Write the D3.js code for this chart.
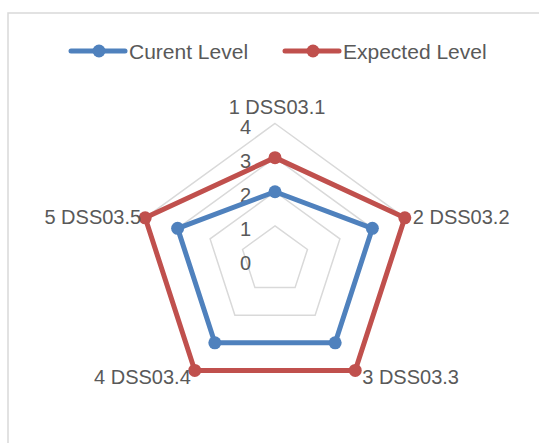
<!DOCTYPE html>
<html><head><meta charset="utf-8">
<script src="https://cdn.jsdelivr.net/npm/d3@7"></script>
<style>body{margin:0;background:#fff;}svg{display:block;}</style>
</head><body>
<svg id="chart" width="539" height="443"></svg>
<script>
const categories = ["1 DSS03.1","2 DSS03.2","3 DSS03.3","4 DSS03.4","5 DSS03.5"];
const currentLevel = [2,3,3,3,3];
const expectedLevel = [3,4,4,4,4];
const seriesNames = ["Curent Level","Expected Level"];
const ticks = [0,1,2,3,4];

const colors = ["#4F81BD","#C0504D"];
const textColor = "#595959";
const gridColor = "#D9D9D9";
const font = "'Liberation Sans', Arial, sans-serif";

const svg = d3.select("#chart");
svg.append("rect").attr("x",8).attr("y",13).attr("width",700).attr("height",600)
  .attr("fill","#fff").attr("stroke",gridColor).attr("stroke-width",1.5);

const cx = 275, cy = 260;
const r = d3.scaleLinear().domain([0,4]).range([0,136.5]);
const ang = d3.scaleLinear().domain([0,categories.length]).range([-Math.PI/2, 1.5*Math.PI]);
const pt = (i,v)=>[cx + r(v)*Math.cos(ang(i)), cy + r(v)*Math.sin(ang(i))];

// grid pentagons
const g = svg.append("g");
ticks.filter(t=>t>0).forEach(t=>{
  g.append("path").attr("d", d3.line()(categories.map((c,i)=>pt(i,t))) + "Z")
    .attr("fill","none").attr("stroke",gridColor).attr("stroke-width",1.5);
});
// spokes
categories.forEach((c,i)=>{
  g.append("line").attr("x1",cx).attr("y1",cy)
    .attr("x2",pt(i,4)[0]).attr("y2",pt(i,4)[1])
    .attr("stroke",gridColor).attr("stroke-width",1.5).attr("visibility","hidden");
});

// tick labels
ticks.forEach(t=>{
  svg.append("text").attr("x",cx-24).attr("y",cy - r(t) + 3)
    .attr("text-anchor","end").attr("dominant-baseline","central")
    .attr("font-family",font).attr("font-size",20).attr("fill",textColor).text(t);
});

// series
[currentLevel, expectedLevel].forEach((vals,s)=>{
  const pts = vals.map((v,i)=>pt(i,v));
  svg.append("path").attr("d", d3.line()(pts)+"Z").attr("fill","none")
    .attr("stroke",colors[s]).attr("stroke-width",5).attr("stroke-linejoin","round");
  svg.selectAll(null).data(pts).enter().append("circle")
    .attr("cx",d=>d[0]).attr("cy",d=>d[1]).attr("r",6.5).attr("fill",colors[s]);
});

// category labels
categories.forEach((c,i)=>{
  const [x,y] = pt(i,4);
  const ca = Math.cos(ang(i)), sa = Math.sin(ang(i));
  const t = svg.append("text").attr("font-family",font).attr("font-size",20).attr("fill",textColor).text(c);
  if (Math.abs(ca) < 0.1) {
    t.attr("x",x+2).attr("y",y-10).attr("text-anchor","middle");
  } else if (sa < 0) {
    t.attr("x", x + (ca>0?8:-4)).attr("y", y - 1).attr("dominant-baseline","central")
     .attr("text-anchor", ca>0?"start":"end");
  } else {
    t.attr("x", x + (ca>0?7:-4)).attr("y", y + 7).attr("dominant-baseline","central")
     .attr("text-anchor", ca>0?"start":"end");
  }
});

// legend
const legendX = [71, 285];
seriesNames.forEach((n,s)=>{
  const lg = svg.append("g").attr("transform",`translate(${legendX[s]},51)`);
  lg.append("line").attr("x1",0).attr("x2",54).attr("y1",0).attr("y2",0)
    .attr("stroke",colors[s]).attr("stroke-width",5).attr("stroke-linecap","round");
  lg.append("circle").attr("cx",28).attr("cy",0).attr("r",6.5).attr("fill",colors[s]);
  lg.append("text").attr("x",58).attr("y",0).attr("dominant-baseline","central")
    .attr("font-family",font).attr("font-size",21).attr("fill",textColor).text(n);
});
</script>
</body></html>
